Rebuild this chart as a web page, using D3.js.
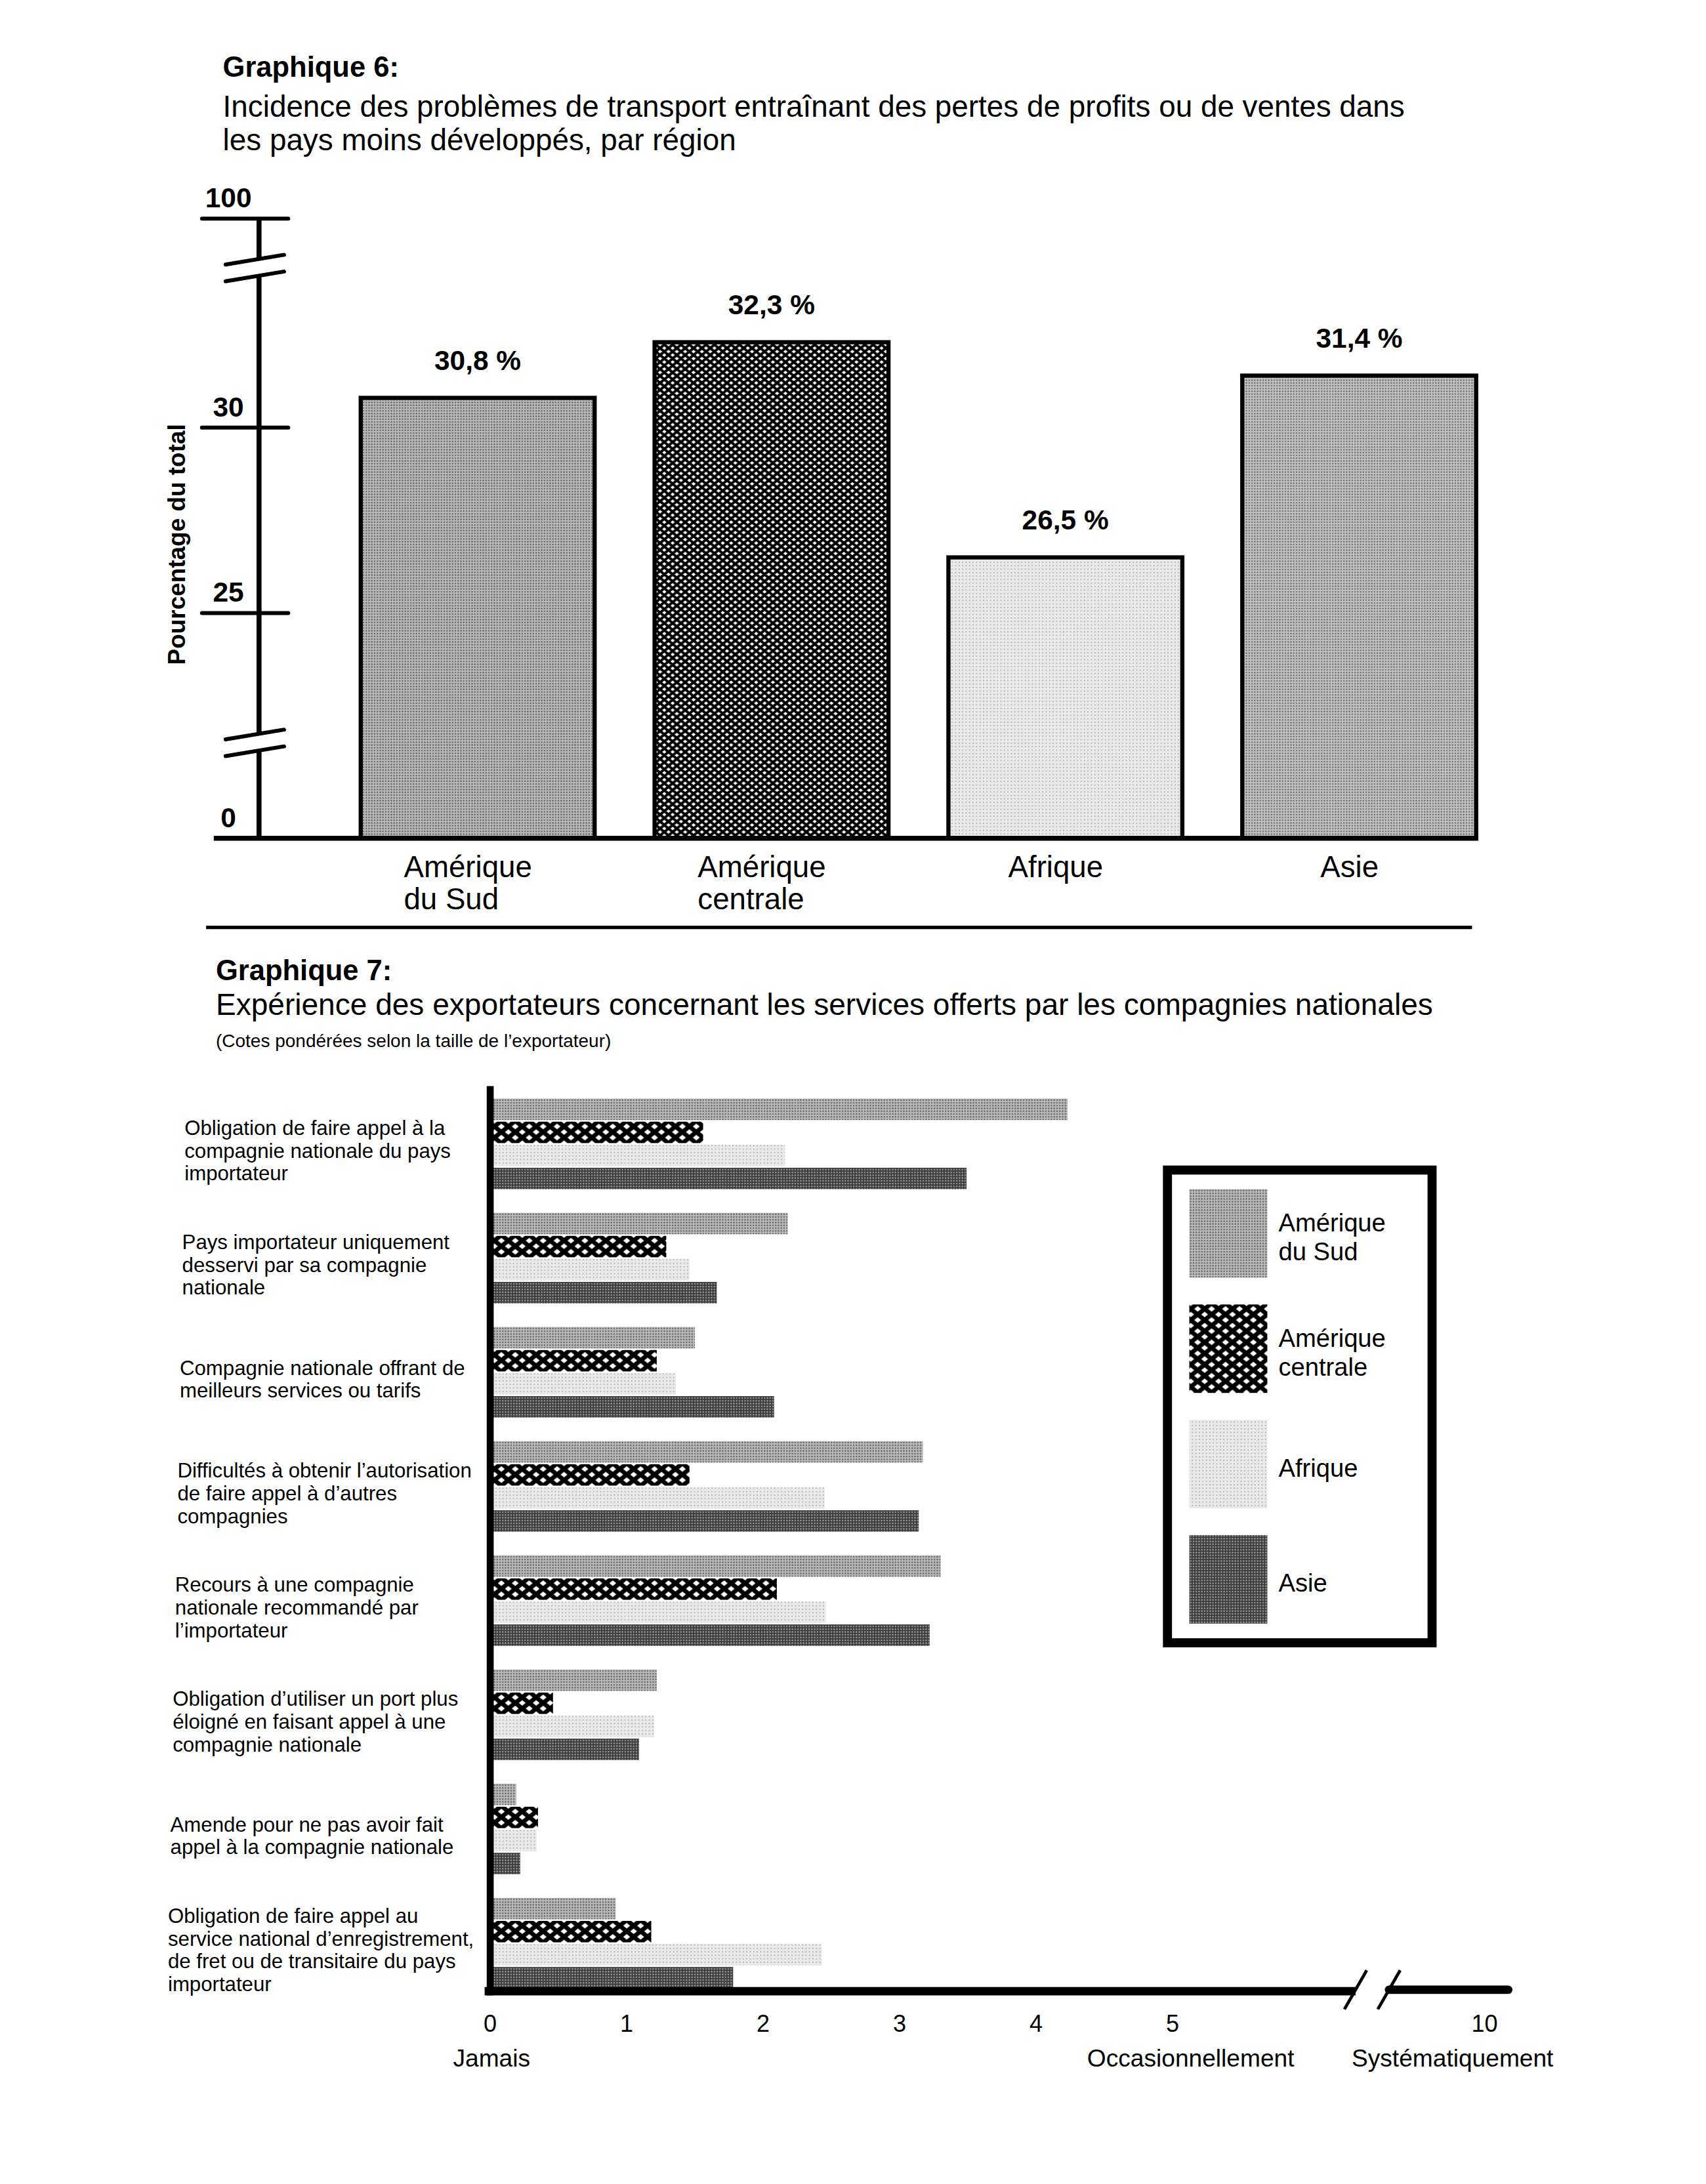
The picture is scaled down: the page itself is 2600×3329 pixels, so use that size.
<!DOCTYPE html>
<html>
<head>
<meta charset="utf-8">
<script src="https://cdn.jsdelivr.net/npm/d3@7"></script>
<style>
  body { margin: 0; background: #fff; }
  svg { display: block; }
  text { font-family: "Liberation Sans", Arial, Helvetica, sans-serif; fill: #000; }
</style>
</head>
<body>
<svg id="page"></svg>
<script>
// ---- data ----
const regions = ["Amérique du Sud", "Amérique centrale", "Afrique", "Asie"];
const regionLines = [["Amérique", "du Sud"], ["Amérique", "centrale"], ["Afrique"], ["Asie"]];

// graphique 6
const incidence = [30.8, 32.3, 26.5, 31.4];
const incidenceLabels = ["30,8 %", "32,3 %", "26,5 %", "31,4 %"];
const yTicks6 = [0, 25, 30, 100];

// graphique 7
const services = [
  ["Obligation de faire appel à la", "compagnie nationale du pays", "importateur"],
  ["Pays importateur uniquement", "desservi par sa compagnie", "nationale"],
  ["Compagnie nationale offrant de", "meilleurs services ou tarifs"],
  ["Difficultés à obtenir l’autorisation", "de faire appel à d’autres", "compagnies"],
  ["Recours à une compagnie", "nationale recommandé par", "l’importateur"],
  ["Obligation d’utiliser un port plus", "éloigné en faisant appel à une", "compagnie nationale"],
  ["Amende pour ne pas avoir fait", "appel à la compagnie nationale"],
  ["Obligation de faire appel au", "service national d’enregistrement,", "de fret ou de transitaire du pays", "importateur"]
];
const sudRatings      = [4.23, 2.18, 1.50, 3.17, 3.30, 1.22, 0.19, 0.92];
const centraleRatings = [1.56, 1.29, 1.22, 1.46, 2.10, 0.46, 0.35, 1.18];
const afriqueRatings  = [2.16, 1.46, 1.36, 2.45, 2.46, 1.20, 0.34, 2.43];
const asieRatings     = [3.49, 1.66, 2.08, 3.14, 3.22, 1.09, 0.22, 1.78];
const xTicks7 = [0, 1, 2, 3, 4, 5, 10];
const xTickNames = [{v: 0, t: "Jamais"}, {v: 5, t: "Occasionnellement"}, {v: 10, t: "Systématiquement"}];

// ---- page ----
const W = 1225, H = 3329 * 1225 / 2600;
const svg = d3.select("#page")
  .attr("width", 2600)
  .attr("height", 3329)
  .attr("viewBox", "0 0 " + W + " " + H);
svg.append("rect").attr("width", W).attr("height", H).attr("fill", "#fff");

const defs = svg.append("defs");

function dots(id, base, dot, step, r) {
  const p = defs.append("pattern").attr("id", id)
    .attr("patternUnits", "userSpaceOnUse")
    .attr("width", step).attr("height", step);
  p.append("rect").attr("width", step).attr("height", step).attr("fill", base);
  p.append("circle").attr("cx", step / 2).attr("cy", step / 2).attr("r", r).attr("fill", dot);
}

function lattice(id, w, h, sw) {
  const e = 1, k = e * h / w;
  const d = [
    `M${-e},${-k}L${w + e},${h + k}`,
    `M${w - e},${-k}L${w + e},${k}`,
    `M${-e},${h - k}L${e},${h + k}`,
    `M${-e},${h + k}L${w + e},${-k}`,
    `M${-e},${k}L${e},${-k}`,
    `M${w - e},${h + k}L${w + e},${h - k}`
  ].join("");
  const p = defs.append("pattern").attr("id", id)
    .attr("patternUnits", "userSpaceOnUse")
    .attr("width", w).attr("height", h);
  p.append("rect").attr("width", w).attr("height", h).attr("fill", "#fff");
  p.append("path").attr("d", d).attr("stroke", "#000").attr("stroke-width", sw).attr("fill", "none");
}

dots("pSud", "#bababa", "#646464", 2, 0.6);
dots("pAfr", "#e9e9e9", "#9a9a9a", 2.5, 0.4);
dots("pAsie6", "#c2c2c2", "#6e6e6e", 2, 0.6);
dots("pAsie7", "#3c3c3c", "#9c9c9c", 2, 0.6);
lattice("pCent6", 6, 5, 1.9);
lattice("pCent7", 10, 8, 3.2);

const fills6 = ["url(#pSud)", "url(#pCent6)", "url(#pAfr)", "url(#pAsie6)"];
const fills7 = ["url(#pSud)", "url(#pCent7)", "url(#pAfr)", "url(#pAsie7)"];

// ---- graphique 6 ----
svg.append("text").attr("x", 160).attr("y", 55)
  .attr("font-size", 20.5).attr("font-weight", "bold").text("Graphique 6:");
svg.append("text").attr("x", 160).attr("y", 84).attr("font-size", 21.6)
  .text("Incidence des problèmes de transport entraînant des pertes de profits ou de ventes dans");
svg.append("text").attr("x", 160).attr("y", 108).attr("font-size", 21.6)
  .text("les pays moins développés, par région");

const breaks6 = [21.5, 34.3];
const y6 = d3.scaleLinear().domain([0, breaks6[0], breaks6[1], 100]).range([602, 533.5, 192.5, 157]);
const x6 = d3.scaleBand().domain(regions).range([237.5, 1081.5])
  .paddingInner(0.204).paddingOuter(0.102);
const axisX6 = 186;

const g6 = svg.append("g");

// bars
g6.selectAll("rect.bar6")
  .data(incidence)
  .enter()
  .append("rect")
  .attr("class", "bar6")
  .attr("x", (d, i) => x6(regions[i]))
  .attr("y", d => y6(d))
  .attr("width", x6.bandwidth())
  .attr("height", d => y6(0) - y6(d))
  .attr("fill", (d, i) => fills6[i])
  .attr("stroke", "#000")
  .attr("stroke-width", 3);

g6.selectAll("text.val6")
  .data(incidence)
  .enter()
  .append("text")
  .attr("class", "val6")
  .attr("x", (d, i) => x6(regions[i]) + x6.bandwidth() / 2)
  .attr("y", d => y6(d) - 20)
  .attr("text-anchor", "middle")
  .attr("font-size", 20)
  .attr("font-weight", "bold")
  .text((d, i) => incidenceLabels[i]);

// category labels
regionLines.forEach((lines, i) => {
  const cx = x6(regions[i]) + x6.bandwidth() / 2;
  const t = g6.append("text").attr("font-size", 21.5).attr("y", 630);
  const first = t.append("tspan").attr("x", cx).attr("text-anchor", "middle").text(lines[0]);
  const w0 = first.node().getComputedTextLength();
  first.attr("x", cx - w0 / 2 - 7).attr("text-anchor", "start");
  lines.slice(1).forEach(l => {
    t.append("tspan").attr("x", cx - w0 / 2 - 7).attr("dy", 23).text(l);
  });
});

// y axis with breaks
const bh = 6;
const segs6 = [
  [y6(100), y6(breaks6[1]) - bh],
  [y6(breaks6[1]) + bh, y6(breaks6[0]) - bh],
  [y6(breaks6[0]) + bh, y6(0)]
];
g6.selectAll("line.axis6")
  .data(segs6)
  .enter()
  .append("line")
  .attr("x1", axisX6).attr("x2", axisX6)
  .attr("y1", d => d[0]).attr("y2", d => d[1])
  .attr("stroke", "#000").attr("stroke-width", 3.6);

breaks6.forEach(b => {
  [-bh, bh].forEach(o => {
    const yc = y6(b) + o;
    g6.append("line")
      .attr("x1", axisX6 - 24).attr("y1", yc + 3.5)
      .attr("x2", axisX6 + 18).attr("y2", yc - 3.5)
      .attr("stroke", "#000").attr("stroke-width", 2.8).attr("stroke-linecap", "round");
  });
});

// ticks
g6.selectAll("line.tick6")
  .data(yTicks6.filter(d => d > 0))
  .enter()
  .append("line")
  .attr("x1", axisX6 - 41).attr("x2", axisX6 + 21)
  .attr("y1", d => y6(d)).attr("y2", d => y6(d))
  .attr("stroke", "#000").attr("stroke-width", 2.8).attr("stroke-linecap", "round");

g6.selectAll("text.tick6")
  .data(yTicks6)
  .enter()
  .append("text")
  .attr("x", axisX6 - 22)
  .attr("y", d => y6(d) - 8)
  .attr("text-anchor", "middle")
  .attr("font-size", 20)
  .attr("font-weight", "bold")
  .text(d => d);

// baseline
g6.append("line")
  .attr("x1", 153.5).attr("x2", x6("Asie") + x6.bandwidth() + 1.5)
  .attr("y1", y6(0)).attr("y2", y6(0))
  .attr("stroke", "#000").attr("stroke-width", 3.6);

g6.append("text")
  .attr("transform", "translate(133,391) rotate(-90)")
  .attr("text-anchor", "middle")
  .attr("font-size", 17.4)
  .attr("font-weight", "bold")
  .text("Pourcentage du total");

// separator
svg.append("line").attr("x1", 148).attr("x2", 1057).attr("y1", 666).attr("y2", 666)
  .attr("stroke", "#000").attr("stroke-width", 2.5);

// ---- graphique 7 ----
svg.append("text").attr("x", 155).attr("y", 704)
  .attr("font-size", 20.5).attr("font-weight", "bold").text("Graphique 7:");
svg.append("text").attr("x", 155).attr("y", 729).attr("font-size", 21.7)
  .text("Expérience des exportateurs concernant les services offerts par les compagnies nationales");
svg.append("text").attr("x", 155).attr("y", 752).attr("font-size", 13.2)
  .text("(Cotes pondérées selon la taille de l’exportateur)");

const ratings = [sudRatings, centraleRatings, afriqueRatings, asieRatings];
const x7 = d3.scaleLinear().domain([0, 5, 10]).range([352, 842, 1066]);
const yG = d3.scaleBand().domain(d3.range(services.length)).range([789, 1428]).paddingInner(0.207);
const yR = d3.scaleBand().domain(regions).range([0, yG.bandwidth()]).paddingInner(0.07);
const baseY7 = 1430;
const xBreak7 = 8.2;

const g7 = svg.append("g");

const groups = g7.selectAll("g.grp")
  .data(services)
  .enter()
  .append("g")
  .attr("class", "grp")
  .attr("transform", (d, i) => "translate(0," + yG(i) + ")");

groups.selectAll("rect")
  .data((d, i) => regions.map((r, j) => ({r: r, j: j, v: ratings[j][i]})))
  .enter()
  .append("rect")
  .attr("x", x7(0))
  .attr("y", d => yR(d.r))
  .attr("width", d => x7(d.v) - x7(0))
  .attr("height", yR.bandwidth())
  .attr("fill", d => fills7[d.j]);

// row labels
services.forEach((lines, i) => {
  const cy = yG(i) + yG.bandwidth() / 2 + 5;
  const lh = 16.3;
  const t = g7.append("text").attr("font-size", 14.7);
  lines.forEach((l, j) => {
    t.append("tspan")
      .attr("x", 132.5 - 1.7 * i)
      .attr("y", cy + (j - (lines.length - 1) / 2) * lh + 5)
      .text(l);
  });
});

// axes
g7.append("line").attr("x1", x7(0)).attr("x2", x7(0)).attr("y1", 780).attr("y2", baseY7 + 3)
  .attr("stroke", "#000").attr("stroke-width", 5);
g7.append("line").attr("x1", x7(0) - 4).attr("x2", x7(xBreak7) - 12)
  .attr("y1", baseY7).attr("y2", baseY7)
  .attr("stroke", "#000").attr("stroke-width", 6);
g7.append("line").attr("x1", x7(xBreak7) + 12).attr("x2", x7(10) + 17)
  .attr("y1", baseY7 - 1).attr("y2", baseY7 - 1)
  .attr("stroke", "#000").attr("stroke-width", 6).attr("stroke-linecap", "round");
[-12, 12].forEach(o => {
  const bx = x7(xBreak7) + o;
  g7.append("line")
    .attr("x1", bx - 8).attr("y1", baseY7 + 13)
    .attr("x2", bx + 8).attr("y2", baseY7 - 15)
    .attr("stroke", "#000").attr("stroke-width", 2.2);
});

g7.selectAll("text.tick7")
  .data(xTicks7)
  .enter()
  .append("text")
  .attr("x", d => x7(d))
  .attr("y", 1459)
  .attr("text-anchor", "middle")
  .attr("font-size", 17)
  .text(d => d);

const nameOffsets = [1, 13, -23];
g7.selectAll("text.name7")
  .data(xTickNames)
  .enter()
  .append("text")
  .attr("x", (d, i) => x7(d.v) + nameOffsets[i])
  .attr("y", 1484)
  .attr("text-anchor", "middle")
  .attr("font-size", 17.5)
  .text(d => d.t);

// legend
const leg = g7.append("g");
leg.append("rect").attr("x", 838.3).attr("y", 840.3).attr("width", 190).attr("height", 339.5)
  .attr("fill", "#fff").attr("stroke", "#000").attr("stroke-width", 6.5);
const legY = d3.scaleBand().domain(regions).range([854, 1166]).paddingInner(0.233);
leg.selectAll("rect.sw")
  .data(regions)
  .enter()
  .append("rect")
  .attr("class", "sw")
  .attr("x", 854)
  .attr("y", d => legY(d))
  .attr("width", 56)
  .attr("height", legY.bandwidth())
  .attr("fill", (d, i) => fills7[i]);
regionLines.forEach((lines, i) => {
  const cy = legY(regions[i]) + legY.bandwidth() / 2 + 3;
  const t = leg.append("text").attr("font-size", 18);
  lines.forEach((l, j) => {
    t.append("tspan").attr("x", 918)
      .attr("y", cy + (j - (lines.length - 1) / 2) * 20.5 + 6)
      .text(l);
  });
});
</script>
</body>
</html>
